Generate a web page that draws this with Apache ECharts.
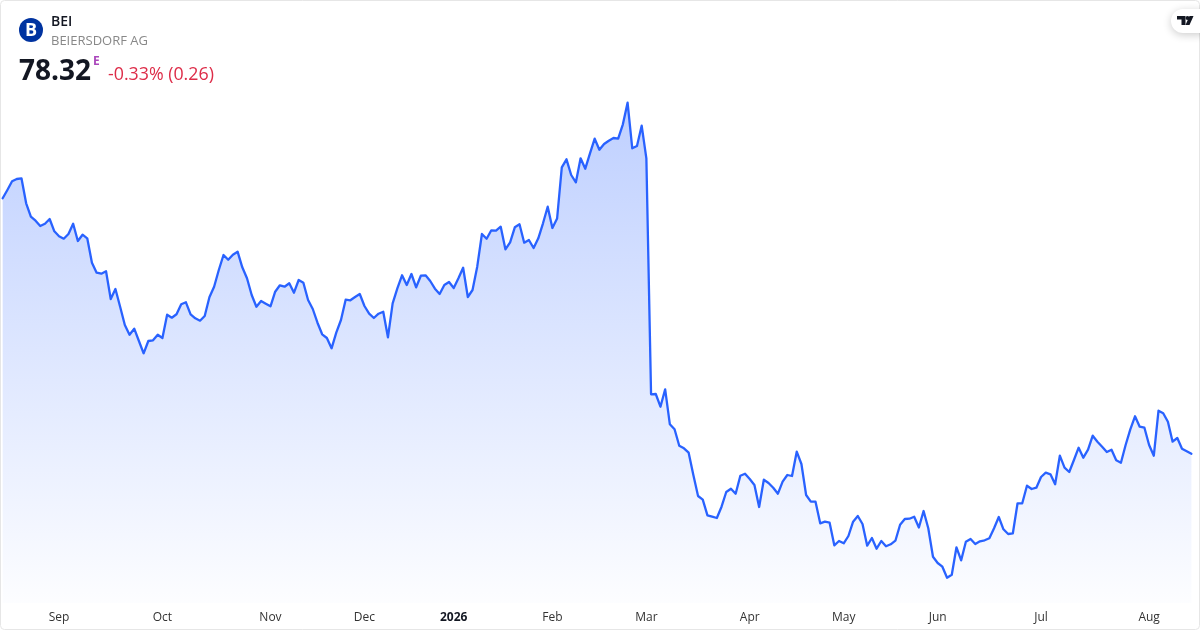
<!DOCTYPE html>
<html>
<head>
<meta charset="utf-8">
<style>html,body{margin:0;padding:0;background:#fff}#c{width:1200px;height:630px}</style>
<script src="https://cdn.jsdelivr.net/npm/echarts@6/dist/echarts.min.js"></script>
</head>
<body>
<div id="c"></div>
<script>
const ticker = "BEI";
const company = "BEIERSDORF AG";
const lastPrice = "78.32";
const change = "-0.33% (0.26)";
const tickLabels = ["Sep","Oct","Nov","Dec","2026","Feb","Mar","Apr","May","Jun","Jul","Aug"];
const tickIndex = [12,34,57,77,96,117,137,159,179,199,221,244];
const prices = [
103.87,104.7,105.57,105.8,105.87,103.37,102.03,101.63,101.1,101.33,101.8,100.57,100.07,99.83,100.3,101.33,99.6,100.23,99.87,97.43,
96.43,96.33,96.57,93.8,94.8,93.03,91.2,90.23,90.83,89.6,88.37,89.6,89.67,90.23,89.9,92.23,91.93,92.27,93.27,93.47,
92.27,91.87,91.63,92.1,93.97,95.03,96.7,98.2,97.73,98.23,98.53,96.97,95.87,94.2,93.03,93.6,93.33,93.07,94.53,95.17,
95.03,95.37,94.43,95.7,95.43,93.7,92.8,91.43,90.27,89.9,88.87,90.43,91.7,93.73,93.67,94,94.3,93.1,92.33,91.9,
92.33,92.53,89.97,93.37,94.87,96.17,95.2,96.3,94.97,96.13,96.17,95.6,94.83,94.3,95.2,95.5,94.9,95.87,96.93,94,
94.7,97.03,100.3,99.83,100.67,100.63,101.03,98.77,99.47,100.97,101.27,99.43,99.7,98.9,99.87,101.37,103.03,100.9,101.85,106.97,
107.77,106.2,105.47,107.87,106.83,108.37,109.83,108.73,109.3,109.63,109.9,109.83,111.27,113.43,108.87,109.1,111.13,107.87,
84.27,84.3,83.03,84.77,81.27,80.77,79.13,78.87,78.43,76.2,74.1,73.73,72.17,72.03,71.9,73.03,74.5,74.83,74.33,76.13,
76.33,75.8,75.2,73,75.73,75.4,74.93,74.33,75.53,76.2,76.1,78.53,77.3,74.2,73.53,73.53,71.37,71.53,71.43,69.17,
69.6,69.37,70.1,71.53,72.1,71.3,69.13,69.9,68.83,69.6,69.07,69.27,69.63,71.23,71.8,71.83,72.03,70.95,72.6,70.87,
68.03,67.4,67.03,65.93,66.23,68.97,67.67,69.53,69.8,69.3,69.57,69.67,69.87,70.87,72,70.77,70.3,70.37,73.37,73.37,
75.13,74.8,74.93,76,76.43,76.27,75.27,78.13,76.93,76.5,77.7,78.93,77.93,78.73,80.13,79.53,79.03,78.5,78.73,77.67,
77.43,79.2,80.77,82.07,81.03,80.93,79.2,78.13,82.63,82.37,81.53,79.53,79.9,78.83,78.57,78.32
];
const categories = prices.map((_, i) => {
  const k = tickIndex.indexOf(i);
  return k >= 0 ? tickLabels[k] : "";
});

const chart = echarts.init(document.getElementById('c'), null, {renderer:'canvas'});
const font = '"Open Sans", sans-serif';
chart.setOption({
  animation:false,
  backgroundColor:'#ffffff',
  grid:{left:2.67,right:8.6,top:2,bottom:27,containLabel:false},
  xAxis:{
    type:'category',
    boundaryGap:false,
    data:categories,
    axisLine:{show:false},
    axisTick:{show:false},
    splitLine:{show:false},
    axisLabel:{
      interval:(i,v)=>v!=="",
      hideOverlap:false,
      margin:9,
      color:'#333333',
      fontFamily:font,
      fontSize:12,
      formatter:(v)=>/^\d{4}$/.test(v)?`{y|${v}}`:v,
      rich:{y:{fontWeight:'bold',color:'#131722',fontFamily:font,fontSize:12}}
    }
  },
  yAxis:{type:'value',min:63.4,max:123.5,show:false,splitLine:{show:false}},
  series:[{
    type:'line',
    data:prices,
    symbol:'none',
    smooth:false,
    clip:false,
    lineStyle:{color:'#2962ff',width:2.3,join:'round',cap:'round'},
    itemStyle:{color:'#2962ff'},
    areaStyle:{
      opacity:1,
      color:new echarts.graphic.LinearGradient(0,0,0,1,[
        {offset:0,color:'rgba(41,98,255,0.3)'},
        {offset:1,color:'rgba(41,98,255,0.012)'}
      ])
    }
  }],
  graphic:[
    {type:'rect',silent:true,z:50,shape:{x:0.5,y:0.5,width:1199,height:629,r:4},style:{fill:'none',stroke:'#e6e6e6',lineWidth:1}},
    {type:'circle',z:60,shape:{cx:31,cy:30,r:12},style:{fill:'#0033a0'}},
    {type:'text',z:61,x:31,y:31,style:{text:'B',fill:'#ffffff',font:`bold 18px ${font}`,align:'center',verticalAlign:'middle'}},
    {type:'text',z:61,x:51,y:22,style:{text:ticker,fill:'#131722',font:`600 14px ${font}`,align:'left',verticalAlign:'middle'}},
    {type:'text',z:61,x:51,y:41,style:{text:company,fill:'#888888',font:`13px ${font}`,align:'left',verticalAlign:'middle'}},
    {type:'text',z:61,x:19,y:72,style:{text:lastPrice,fill:'#131722',font:`bold 28px ${font}`,align:'left',verticalAlign:'middle'}},
    {type:'text',z:61,x:93,y:62,style:{text:'E',fill:'#ab47bc',font:`bold 12px ${font}`,align:'left',verticalAlign:'middle'}},
    {type:'text',z:61,x:108,y:75,style:{text:change,fill:'#dd2c48',font:`17.8px ${font}`,align:'left',verticalAlign:'middle'}},
    {type:'rect',z:62,shape:{x:1171,y:9,width:40,height:24,r:12},style:{fill:'#ffffff',shadowBlur:8,shadowColor:'rgba(0,0,0,0.2)',shadowOffsetY:2}},
    {type:'polygon',z:64,shape:{points:[[1177,16],[1185.5,16],[1185.5,25],[1181.5,25],[1181.5,19.5],[1177,19.5]]},style:{fill:'#131722'}},
    {type:'circle',z:64,shape:{cx:1187.5,cy:18,r:2},style:{fill:'#131722'}},
    {type:'polygon',z:64,shape:{points:[[1189.5,16],[1193.5,16],[1189.5,25],[1185.5,25]]},style:{fill:'#131722'}}
  ]
});
</script>
</body>
</html>
